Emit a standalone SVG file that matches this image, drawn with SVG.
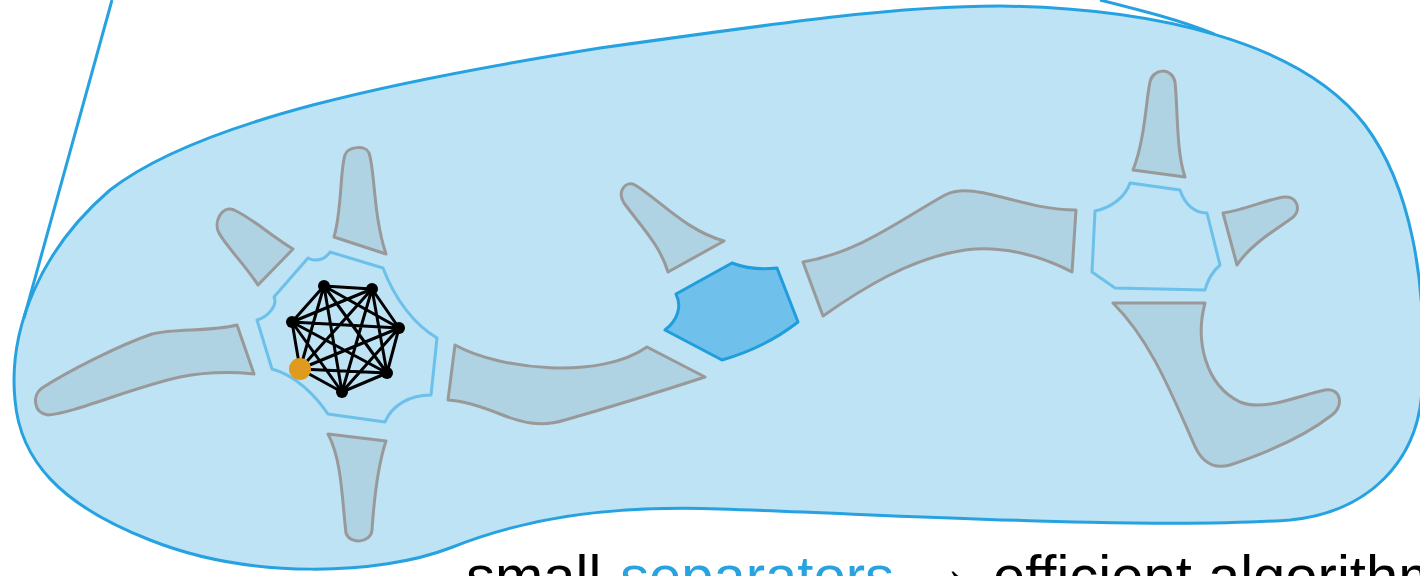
<svg xmlns="http://www.w3.org/2000/svg" width="1420" height="576" viewBox="0 0 1420 576">
<style>
.blob{fill:#bde3f5;stroke:#27a2e0;stroke-width:3}
.piece{fill:#b0d3e4;stroke:#999999;stroke-width:3;stroke-linejoin:round}
.sep{fill:none;stroke:#6cc0ea;stroke-width:3;stroke-linejoin:round}
.hex{fill:#6fc0ea;stroke:#1f9ddc;stroke-width:3;stroke-linejoin:round}
.cone{fill:none;stroke:#27a2e0;stroke-width:3}
.edge{stroke:#000;stroke-width:3}
.v{fill:#000}
.txt{font-family:"Liberation Sans",Arial,sans-serif;font-size:58px;fill:#000}
</style>
<g id="region">
<path class="blob" d="M 15,400 C 8,330 40,250 110,190 C 200,120 400,80 600,48 C 800,20 900,6 1000,6 C 1150,8 1300,40 1365,125 C 1410,185 1428,280 1422,390 C 1418,460 1370,512 1290,520 C 1150,530 900,515 720,509 C 600,505 520,520 450,548 C 380,575 250,580 150,540 C 60,505 20,460 15,400 Z"/>
<path class="cone" d="M 112,0 L 24,318"/>
<path class="cone" d="M 1100,0 C 1140,10 1180,20 1214,34"/>
</g>
<g id="piece-top-left-finger"><path class="piece" d="M 334,237 C 342,210 340,170 345,155 C 348,146 366,145 369,153 C 375,170 373,215 386,254 Z"/></g>
<g id="piece-upper-left"><path class="piece" d="M 258,285 C 245,265 226,246 219,233 C 213,222 222,205 234,210 C 252,218 270,235 293,249 Z"/></g>
<g id="piece-left-long"><path class="piece" d="M 237,325 C 210,332 175,328 152,334 C 120,345 70,370 42,388 C 32,395 33,413 48,415 C 75,413 130,388 180,377 C 210,371 235,372 254,374 Z"/></g>
<g id="piece-bottom-finger"><path class="piece" d="M 328,434 L 386,441 C 378,465 374,500 372,530 C 371,543 350,545 346,533 C 342,500 342,460 328,434 Z"/></g>
<g id="piece-mid-low"><path class="piece" d="M 455,345 C 500,370 600,380 647,347 L 705,377 C 650,395 600,410 565,420 C 540,428 520,422 500,414 C 480,406 465,401 448,400 Z"/></g>
<g id="piece-mid-finger"><path class="piece" d="M 668,272 C 660,245 640,225 624,203 C 617,192 625,180 635,185 C 660,200 685,230 724,241 Z"/></g>
<g id="piece-mid-high"><path class="piece" d="M 803,262 C 860,252 900,220 945,195 C 975,180 1020,210 1076,210 L 1072,272 C 1040,255 1000,245 965,250 C 910,258 860,290 823,316 Z"/></g>
<g id="piece-right-top-finger"><path class="piece" d="M 1133,170 C 1145,140 1146,100 1150,82 C 1153,68 1172,67 1175,82 C 1178,110 1176,150 1185,177 Z"/></g>
<g id="piece-right-small"><path class="piece" d="M 1223,213 C 1245,210 1270,198 1285,197 C 1297,196 1302,210 1292,218 C 1275,230 1250,245 1237,265 Z"/></g>
<g id="piece-right-l"><path class="piece" d="M 1113,303 L 1205,303 C 1195,340 1205,385 1240,402 C 1265,412 1300,395 1325,390 C 1340,387 1345,405 1332,415 C 1300,440 1260,455 1230,465 C 1212,470 1200,460 1193,442 C 1170,390 1150,340 1113,303 Z"/></g>
<g id="separator-left"><path class="sep" d="M 308,258 C 315,262 325,260 330,252 L 383,268 C 395,300 415,325 437,338 L 431,395 C 410,395 392,405 385,422 L 328,414 C 315,395 295,375 272,369 L 257,320 C 268,317 278,305 274,297 L 308,258 Z"/></g>
<g id="separator-mid"><path class="hex" d="M 732,263 C 745,268 760,270 777,268 L 798,322 C 775,340 750,352 722,360 L 665,330 C 678,320 682,306 676,294 Z"/></g>
<g id="separator-right"><path class="sep" d="M 1130,183 L 1180,190 C 1185,205 1195,213 1207,213 L 1220,265 C 1212,272 1207,282 1205,290 L 1115,288 L 1092,272 L 1095,211 C 1110,208 1125,198 1130,183 Z"/></g>
<g id="connectors">
<path class="edge" d="M 324,286 L 372,289 M 324,286 L 399,328 M 324,286 L 387,373 M 324,286 L 342,392 M 324,286 L 300,369 M 324,286 L 292,322 M 372,289 L 399,328 M 372,289 L 387,373 M 372,289 L 342,392 M 372,289 L 300,369 M 372,289 L 292,322 M 399,328 L 387,373 M 399,328 L 342,392 M 399,328 L 300,369 M 399,328 L 292,322 M 387,373 L 342,392 M 387,373 L 300,369 M 387,373 L 292,322 M 342,392 L 300,369 M 342,392 L 292,322 M 300,369 L 292,322"/>
</g>
<g id="v1"><circle class="v" cx="324" cy="286" r="6"/></g>
<g id="v2"><circle class="v" cx="372" cy="289" r="6"/></g>
<g id="v3"><circle class="v" cx="399" cy="328" r="6"/></g>
<g id="v4"><circle class="v" cx="387" cy="373" r="6"/></g>
<g id="v5"><circle class="v" cx="342" cy="392" r="6"/></g>
<g id="v6"><circle class="v" cx="292" cy="322" r="6"/></g>
<g id="v7"><circle cx="300" cy="369" r="11" fill="#e09a1e"/></g>
<g id="caption">
<text class="txt" y="596"><tspan x="466">small</tspan><tspan x="620" fill="#29a3e0">separators</tspan><tspan x="915" dy="-8">→</tspan><tspan x="993" dy="8">efficient algorithm</tspan></text>
</g>
</svg>
